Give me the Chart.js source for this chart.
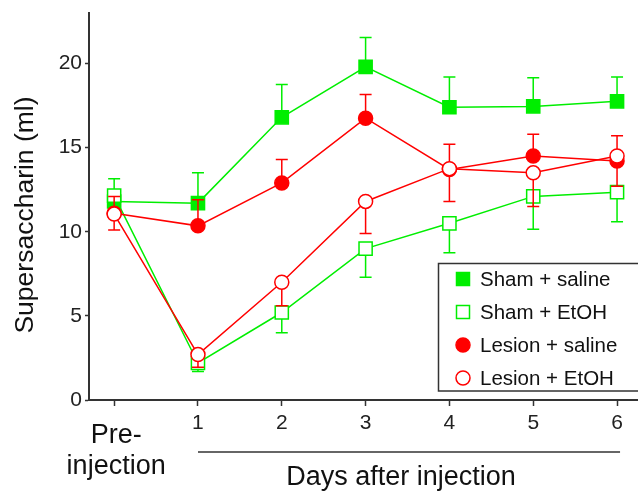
<!DOCTYPE html>
<html>
<head>
<meta charset="utf-8">
<script src="https://cdn.jsdelivr.net/npm/chart.js@4"></script>
<style>
  html, body { margin: 0; padding: 0; background: #fff; overflow: hidden; }
  #wrap { width: 638px; height: 499px; position: relative; }
</style>
</head>
<body>
<div id="wrap"><canvas id="chart"></canvas></div>
<script>
// x positions: 0 = pre-injection, 1..6 = days after injection
const days = ['Pre-injection', '1', '2', '3', '4', '5', '6'];
const dayIndex = [0, 1, 2, 3, 4, 5, 6];
const yTicks = [0, 5, 10, 15, 20];

const shamSaline = [11.8, 11.7, 16.8, 19.8, 17.4, 17.45, 17.75];
const shamSalineErr = [1.35, 1.8, 1.95, 1.75, 1.8, 1.7, 1.45];
const shamEtoh = [12.15, 2.2, 5.2, 9.0, 10.5, 12.1, 12.35];
const shamEtohErr = [0.3, 0.5, 1.2, 1.7, 1.75, 1.95, 1.75];
const lesionSaline = [11.1, 10.35, 12.9, 16.75, 13.7, 14.5, 14.2];
const lesionSalineErr = [1.0, 1.55, 1.4, 1.4, 1.5, 1.3, 1.5];
const lesionEtoh = [11.05, 2.7, 7.0, 11.8, 13.75, 13.5, 14.5];
const lesionEtohErr = [0.95, 0.75, 1.4, 1.9, 1.95, 2.0, 1.8];

const GREEN = '#00ee00';
const RED = '#ff0000';
const FONT = "'Liberation Sans', Arial, sans-serif";

function series(label, values, errs, dir, color, style, filled, order) {
  return {
    label: label,
    data: values.map((v, i) => ({ x: dayIndex[i], y: v })),
    err: errs,
    errDir: dir,
    borderColor: color,
    borderWidth: 1.5,
    tension: 0,
    pointStyle: style,
    pointRadius: style === 'rect' ? 9.3 : 7,
    pointBorderWidth: 1.5,
    pointBorderColor: color,
    pointBackgroundColor: filled ? color : '#ffffff',
    filled: filled,
    order: order,
    clip: false
  };
}

// error bars, drawn just before each dataset so its markers sit on top
const errorBars = {
  id: 'errorBars',
  beforeDatasetDraw(chart, args) {
    const ds = chart.data.datasets[args.index];
    const xs = chart.scales.x, ys = chart.scales.y;
    const ctx = chart.ctx;
    ctx.save();
    ctx.strokeStyle = ds.borderColor;
    ctx.lineWidth = 1.5;
    ds.data.forEach((p, i) => {
      const px = xs.getPixelForValue(p.x);
      const y0 = ys.getPixelForValue(p.y);
      const y1 = ys.getPixelForValue(p.y + ds.errDir * ds.err[i]);
      ctx.beginPath();
      ctx.moveTo(px, y0);
      ctx.lineTo(px, y1);
      ctx.moveTo(px - 6, y1);
      ctx.lineTo(px + 6, y1);
      ctx.stroke();
    });
    ctx.restore();
  }
};

const extras = {
  id: 'extras',
  afterDraw(chart) {
    const ctx = chart.ctx;
    const xs = chart.scales.x;
    ctx.save();
    ctx.fillStyle = '#111';

    // y title
    ctx.save();
    ctx.translate(33, 215);
    ctx.rotate(-Math.PI / 2);
    ctx.font = '26.5px ' + FONT;
    ctx.textAlign = 'center';
    ctx.textBaseline = 'alphabetic';
    ctx.fillText('Supersaccharin (ml)', 0, 0);
    ctx.restore();

    // pre-injection label
    const preX = xs.getPixelForValue(0) + 2;
    ctx.font = '27px ' + FONT;
    ctx.textAlign = 'center';
    ctx.textBaseline = 'alphabetic';
    ctx.fillText('Pre-', preX, 443);
    ctx.fillText('injection', preX, 474);

    // bracket line and x title
    ctx.strokeStyle = '#333';
    ctx.lineWidth = 1.5;
    ctx.beginPath();
    ctx.moveTo(xs.getPixelForValue(1), 452);
    ctx.lineTo(xs.getPixelForValue(6) + 3, 452);
    ctx.stroke();
    ctx.fillText('Days after injection', 401, 485);

    // legend
    ctx.fillStyle = '#fff';
    ctx.fillRect(438.5, 263.5, 202, 127.5);
    ctx.strokeRect(438.5, 263.5, 202, 127.5);
    const rows = [279, 312, 345, 378];
    ctx.font = '20.5px ' + FONT;
    ctx.textAlign = 'left';
    chart.data.datasets.forEach((ds, i) => {
      const cx = 463, cy = rows[i];
      ctx.fillStyle = ds.filled ? ds.borderColor : '#fff';
      ctx.strokeStyle = ds.borderColor;
      ctx.lineWidth = 1.5;
      ctx.beginPath();
      if (ds.pointStyle === 'rect') ctx.rect(cx - 6.5, cy - 6.5, 13, 13);
      else ctx.arc(cx, cy, 7, 0, Math.PI * 2);
      ctx.fill();
      ctx.stroke();
      ctx.fillStyle = '#111';
      ctx.fillText(ds.label, 480, cy + 7);
    });
    ctx.restore();
  }
};

function noPad(s) {
  s.paddingLeft = 0;
  s.paddingRight = 0;
  s.paddingTop = 0;
  s.paddingBottom = 0;
}

new Chart(document.getElementById('chart'), {
  type: 'line',
  data: {
    datasets: [
      series('Sham + saline', shamSaline, shamSalineErr, 1, GREEN, 'rect', true, 4),
      series('Sham + EtOH', shamEtoh, shamEtohErr, -1, GREEN, 'rect', false, 3),
      series('Lesion + saline', lesionSaline, lesionSalineErr, 1, RED, 'circle', true, 2),
      series('Lesion + EtOH', lesionEtoh, lesionEtohErr, -1, RED, 'circle', false, 1)
    ]
  },
  options: {
    responsive: true,
    maintainAspectRatio: false,
    animation: false,
    layout: { autoPadding: false, padding: { top: 13, left: 0, right: 0, bottom: 0 } },
    plugins: { legend: { display: false }, tooltip: { enabled: false } },
    scales: {
      x: {
        type: 'linear',
        min: -0.3,
        max: 6.25,
        afterBuildTicks: s => { s.ticks = dayIndex.map(v => ({ value: v })); },
        afterFit: s => { s.height = 99; noPad(s); },
        ticks: {
          callback: v => (v === 0 ? '' : days[v]),
          font: { family: FONT, size: 21 },
          color: '#222',
          padding: 5,
          maxRotation: 0,
          autoSkip: false
        },
        grid: { drawOnChartArea: false, tickLength: 6, tickWidth: 1.5, tickColor: '#333' },
        border: { color: '#333', width: 2 }
      },
      y: {
        min: 0,
        max: 23,
        afterBuildTicks: s => { s.ticks = yTicks.map(v => ({ value: v })); },
        afterFit: s => { s.width = 89; noPad(s); },
        ticks: {
          font: { family: FONT, size: 21 },
          color: '#222',
          padding: 3
        },
        grid: { drawOnChartArea: false, tickLength: 4, tickWidth: 1.5, tickColor: '#333' },
        border: { color: '#333', width: 2 }
      }
    }
  },
  plugins: [errorBars, extras]
});
</script>
</body>
</html>
